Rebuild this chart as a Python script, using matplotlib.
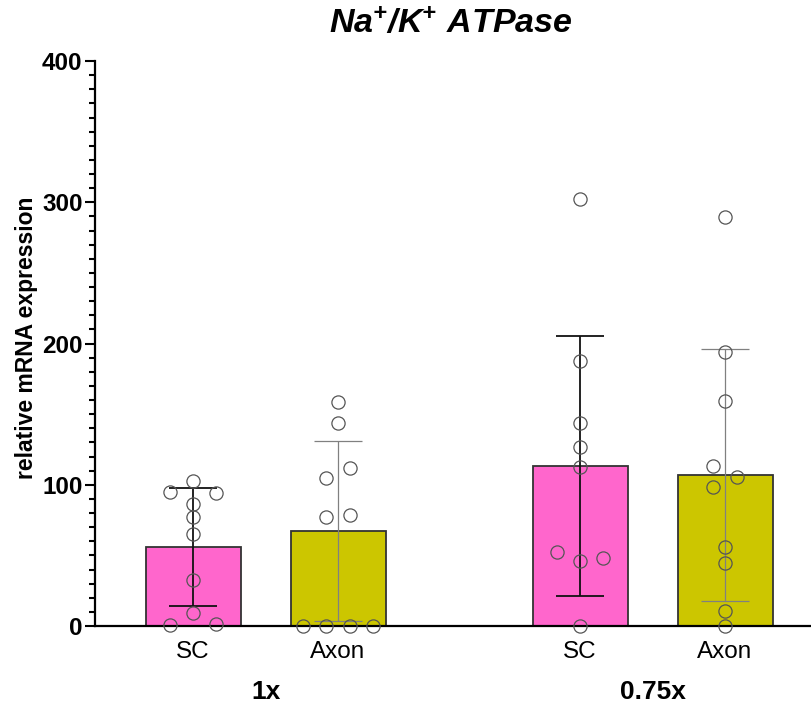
import matplotlib
matplotlib.use("Agg")
import matplotlib.pyplot as plt
from matplotlib.ticker import MultipleLocator
import numpy as np

plt.rcParams['font.family'] = ['Liberation Sans', 'DejaVu Sans']
plt.rcParams['mathtext.fontset'] = 'custom'
plt.rcParams['mathtext.rm'] = 'Liberation Sans:bold:italic'
plt.rcParams['mathtext.it'] = 'Liberation Sans:bold:italic'

# ---- data ----
categories = ["SC", "Axon", "SC", "Axon"]
groups = ["1x", "0.75x"]
means = [55.9, 67.3, 113.3, 106.9]
sd = [41.9, 63.5, 92.0, 89.0]
points_sc_1x = [94.7, 102.6, 93.9, 86.4, 77.0, 64.9, 32.6, 9.4, 0.5, 1.7]
offsets_sc_1x = [-1, 0, 1, 0, 0, 0, 0, 0, -1, 1]
points_axon_1x = [158.4, 143.5, 104.6, 111.6, 77.5, 78.6, 0, 0, 0, 0]
offsets_axon_1x = [0, 0, -0.5, 0.5, -0.5, 0.5, -1.5, -0.5, 0.5, 1.5]
points_sc_075 = [302.3, 187.6, 143.5, 126.5, 112.8, 52.6, 46.2, 47.9, 0]
offsets_sc_075 = [0, 0, 0, 0, 0, -1, 0, 1, 0]
points_axon_075 = [289.8, 193.8, 159.5, 113.3, 105.3, 98.2, 56.2, 44.8, 10.9, 0]
offsets_axon_075 = [0, 0, 0, -0.5, 0.5, -0.5, 0, 0, 0, 0]

all_points = [points_sc_1x, points_axon_1x, points_sc_075, points_axon_075]
all_offsets = [offsets_sc_1x, offsets_axon_1x, offsets_sc_075, offsets_axon_075]

colors = ["#FF66CC", "#CCC600", "#FF66CC", "#CCC600"]
err_colors = ["#111111", "#808080", "#111111", "#808080"]
err_lw = [1.3, 0.9, 1.3, 0.9]
positions = [0, 1, 2.669, 3.669]
jitter = 0.16

fig = plt.figure(figsize=(8.11, 7.07), dpi=100)
ax = fig.add_axes([95/811, 81/707, 716/811, 565/707])

ax.bar(positions, means, width=0.655, color=colors, edgecolor="#333333",
       linewidth=1.3, zorder=2)
for i, x in enumerate(positions):
    ax.errorbar(x, means[i], yerr=sd[i], color=err_colors[i], lw=err_lw[i],
                capsize=17.5, capthick=err_lw[i], zorder=3, fmt='none')
    xs = [x + o * jitter for o in all_offsets[i]]
    ax.plot(xs, all_points[i], linestyle='none', marker='o', ms=9.5,
            mfc='none', mec='#555555', mew=0.9, zorder=4, clip_on=False)

ax.set_xlim(-0.676, 4.262)
ax.set_ylim(0, 400)
ax.yaxis.set_major_locator(MultipleLocator(100))
ax.yaxis.set_minor_locator(MultipleLocator(10))
ax.spines['top'].set_visible(False)
ax.spines['right'].set_visible(False)
ax.spines['left'].set_linewidth(1.6)
ax.spines['bottom'].set_linewidth(1.6)
ax.tick_params(axis='y', which='major', length=7, width=1.5, labelsize=17.5, pad=2)
ax.tick_params(axis='y', which='minor', length=4, width=1.5)
for lab in ax.get_yticklabels():
    lab.set_fontweight('bold')
ax.set_xticks(positions)
ax.set_xticklabels(categories, fontsize=17.5)
ax.tick_params(axis='x', length=0, pad=11)

ax.set_ylabel("relative mRNA expression", fontsize=16.5, fontweight='bold')
ax.yaxis.set_label_coords(-0.080, 0.51)

group_x = [(positions[0] + positions[1]) / 2, (positions[2] + positions[3]) / 2]
for gx, g in zip(group_x, groups):
    ax.annotate(g, xy=(gx, 0), xycoords=('data', 'axes fraction'),
                xytext=(0, -66), textcoords='offset pixels', ha='center',
                va='center', fontsize=19, fontweight='bold')

fig.text(451/811, 1 - 24/707, r"$\mathrm{Na^{+}/K^{+}\ ATPase}$", ha='center',
         va='center', fontsize=24.5)

fig.savefig("out.png", dpi=100)
